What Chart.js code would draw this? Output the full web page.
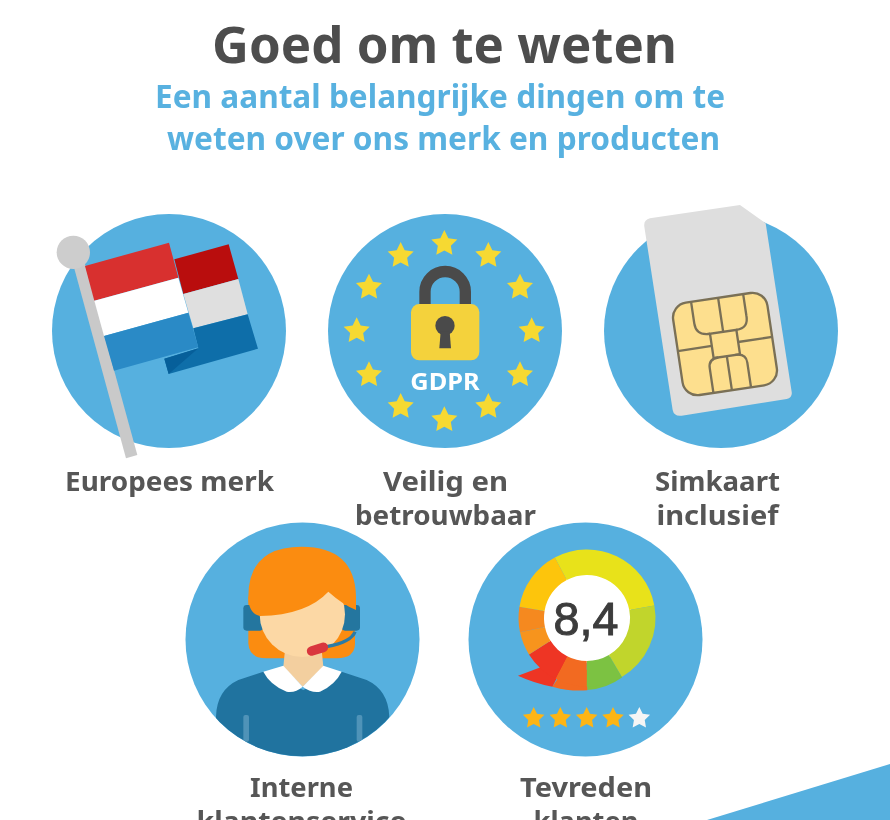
<!DOCTYPE html>
<html lang="nl"><head><meta charset="utf-8"><title>Goed om te weten</title>
<script src="https://cdn.jsdelivr.net/npm/chart.js@4"></script>
<style>
html,body{margin:0;padding:0;background:#fff;width:890px;height:820px;overflow:hidden}
#art{position:absolute;left:0;top:0;filter:blur(.5px)}
#gauge{position:absolute;left:507.3px;top:538.3px;width:160px;height:160px;filter:blur(.5px)}
text{font-family:"Noto Sans","Open Sans",sans-serif;font-weight:700;text-anchor:middle}
</style></head><body>
<svg id="art" width="890" height="820" viewBox="0 0 890 820" xmlns="http://www.w3.org/2000/svg">
<defs><clipPath id="agentClip"><circle cx="367" cy="328" r="351"/></clipPath></defs>
<polygon points="707,820 890,764 890,820" fill="#56b0df"/>
<text x="444.500" y="63" font-size="50" fill="#4d4d4d" textLength="465" lengthAdjust="spacingAndGlyphs">Goed om te weten</text>
<text x="440" y="108" font-size="33" fill="#58b1e0" textLength="570" lengthAdjust="spacingAndGlyphs">Een aantal belangrijke dingen om te</text>
<text x="443.500" y="150" font-size="33" fill="#58b1e0" textLength="553" lengthAdjust="spacingAndGlyphs">weten over ons merk en producten</text>

<circle cx="169" cy="331" r="117" fill="#56b0df"/>
<circle cx="445" cy="331" r="117" fill="#56b0df"/>
<circle cx="721" cy="331" r="117" fill="#56b0df"/>
<circle cx="302.500" cy="639.500" r="117" fill="#56b0df"/>
<circle cx="585.500" cy="639.500" r="117" fill="#56b0df"/>

<g transform="translate(40 200) scale(.33333)">
<polygon points="403,178 566,133 595,237 430,282" fill="#b90d0d"/>
<polygon points="430,282 595,237 623,343 460,385" fill="#dfdfdf"/>
<polygon points="460,385 623,343 654,446 386,522 373,476 475,445" fill="#0e6ea9"/>
<polygon points="373,476 475,445 386,522" fill="#065f9a"/>
<polygon points="100,195 133,185 292,765 258,775" fill="#c9c9c9"/>
<circle cx="100" cy="157" r="50" fill="#cdcdcd"/>
<polygon points="135,198 387,128 415,233 163,302" fill="#d8302f"/>
<polygon points="163,302 415,233 445,338 192,408" fill="#ffffff"/>
<polygon points="192,408 445,338 475,442 222,512" fill="#2a8ac6"/>
</g>

<g transform="translate(320 205) scale(.33333)">
<g id="euStars"></g>
<path d="M315,297 V260 A60,60 0 0 1 436,260 V297" fill="none" stroke="#4a4a4a" stroke-width="34"/>
<rect x="273" y="297" width="205" height="169" rx="25" fill="#f4d23c"/>
<circle cx="375" cy="362" r="29" fill="#4a4a4a"/>
<polygon points="362,380 389,380 393,430 358,430" fill="#4a4a4a"/>
<text x="375" y="555" font-size="68" fill="#ffffff" textLength="208" lengthAdjust="spacingAndGlyphs">GDPR</text>
</g>

<g transform="translate(600 200) scale(.33333)">
<path d="M150,55 L420,15 L497,70 L575,575 Q578,592 560,597 L245,647 Q222,650 218,630 L133,80 Q130,60 150,55 Z" fill="#dedede"/>
<g transform="translate(375 432) rotate(-8.5)" fill="none" stroke="#7a7056" stroke-width="7">
<rect x="-143" y="-140" width="286" height="280" rx="45" fill="#fddf8e"/>
<rect x="-40" y="-37" width="80" height="74"/>
<path d="M-82,-140 V-75 Q-82,-37 -40,-37 M40,-37 Q78,-37 76,-75 V-140 M0,-140 V-37"/>
<path d="M-56,140 V65 Q-56,37 -26,37 M26,37 Q58,37 58,65 V140 M0,37 V140"/>
<path d="M-143,0 H-40 M40,0 H143"/>
</g></g>

<g transform="translate(180 530) scale(.33333)">
<path d="M205,200 V340 Q207,385 260,385 H470 Q525,385 525,340 V200 Z" fill="#fb8c10"/>
<g clip-path="url(#agentClip)">
<path d="M108,560 Q110,480 175,450 L250,425 L370,480 L485,425 L560,450 Q625,480 628,560 V700 H108 Z" fill="#20739f"/>
<rect x="190" y="555" width="17" height="80" rx="6" fill="#4f93b8"/>
<rect x="530" y="555" width="17" height="80" rx="6" fill="#4f93b8"/>
</g>
<polygon points="315,360 425,360 430,410 368,470 310,410" fill="#f3cf9f"/>
<path d="M250,425 L310,407 L368,470 Q345,490 320,485 Q270,465 250,425 Z" fill="#fff"/>
<path d="M485,425 L430,407 L368,470 Q395,490 420,485 Q465,465 485,425 Z" fill="#fff"/>
<rect x="190" y="225" width="60" height="77" rx="10" fill="#24769f"/>
<rect x="485" y="225" width="55" height="77" rx="10" fill="#24769f"/>
<circle cx="367" cy="253" r="128" fill="#fcd8a5"/>
<path d="M205,200 Q205,50 365,50 Q525,50 528,200 V240 Q490,225 445,185 Q380,255 240,258 Q205,250 205,200 Z" fill="#fb8c10"/>
<path d="M525,305 Q515,335 440,350" fill="none" stroke="#2a7ba6" stroke-width="10"/>
<path d="M395,363 L430,352" fill="none" stroke="#d9363e" stroke-width="29" stroke-linecap="round"/>
</g>

<g transform="translate(468 530) scale(.33333)">
<circle cx="358" cy="265" r="134" fill="#ffffff"/>
<path d="M358,420 V480 Q415,477 463,442 Z" fill="#7cc242"/>
<path d="M358,420 V481 Q305,485 253,470 L300,400 Z" fill="#f26a21"/>
<path d="M185,375 L218,412 L150,437 Q200,460 253,470 L300,380 Z" fill="#ee3524"/>
<text x="354" y="315" font-size="140" fill="#3c3c3c" stroke="#3c3c3c" stroke-width="3" style="font-family:'Liberation Sans';font-weight:400">8,4</text>
<g id="ratingStars"></g>
</g>

<g font-size="27" fill="#565656">
<text x="169.500" y="491" textLength="209" lengthAdjust="spacingAndGlyphs">Europees merk</text>
<text x="445.500" y="491" textLength="125" lengthAdjust="spacingAndGlyphs">Veilig en</text>
<text x="445.500" y="525" textLength="181" lengthAdjust="spacingAndGlyphs">betrouwbaar</text>
<text x="717.500" y="491" textLength="125" lengthAdjust="spacingAndGlyphs">Simkaart</text>
<text x="717.500" y="525" textLength="122" lengthAdjust="spacingAndGlyphs">inclusief</text>
<text x="301.500" y="797" textLength="103" lengthAdjust="spacingAndGlyphs">Interne</text>
<text x="301.500" y="831" textLength="210" lengthAdjust="spacingAndGlyphs">klantenservice</text>
<text x="586" y="797" textLength="132" lengthAdjust="spacingAndGlyphs">Tevreden</text>
<text x="586" y="831" textLength="105" lengthAdjust="spacingAndGlyphs">klanten</text>
</g>
</svg>
<canvas id="gauge" width="160" height="160"></canvas>
<script>
const gaugeLabels = ['Goed','Zeer goed','Uitstekend','Matig','Slecht','Onvoldoende','Redelijk','Voldoende'];
const gaugeValues = [107.4, 70, 31, 27, 30.5, 20, 21.6, 52.5];
const gaugeColors = ['#e8e21a','#c1d52c','#7cc242','#f26a21','#ee3524','#f7941d','#f5891f','#fdc50c'];
const ratingFilled = 4;

const NS = 'http://www.w3.org/2000/svg';
function star(parent, cx, cy, r, fill){
  const pts = [];
  for(let i=0;i<10;i++){
    const a = -Math.PI/2 + i*Math.PI/5, q = i%2 ? r*0.5 : r;
    pts.push((cx+q*Math.cos(a)).toFixed(1)+','+(cy+q*Math.sin(a)).toFixed(1));
  }
  const p = document.createElementNS(NS,'polygon');
  p.setAttribute('points',pts.join(' ')); p.setAttribute('fill',fill);
  parent.appendChild(p);
}
const eu = document.getElementById('euStars');
[[373,116],[505,152],[600,247],[635,378],[600,510],[505,605],[373,645],[242,605],[147,510],[110,378],[147,247],[242,152]]
  .forEach(s => star(eu, s[0], s[1], 41, '#f6d932'));
const rs = document.getElementById('ratingStars');
[197,277,356,435,514].forEach((x,i) => star(rs, x, 565, 34, i < ratingFilled ? '#fdb515' : '#f5f5f5'));

new Chart(document.getElementById('gauge'), {
  type: 'doughnut',
  data: { labels: gaugeLabels, datasets: [{ data: gaugeValues, backgroundColor: gaugeColors, borderWidth: 0 }] },
  options: {
    responsive: false, animation: false, rotation: -28, radius: 68.5, cutout: '62.8%',
    layout: { padding: 0 },
    plugins: { legend: { display: false }, tooltip: { enabled: false } }
  }
});
</script>
</body></html>
